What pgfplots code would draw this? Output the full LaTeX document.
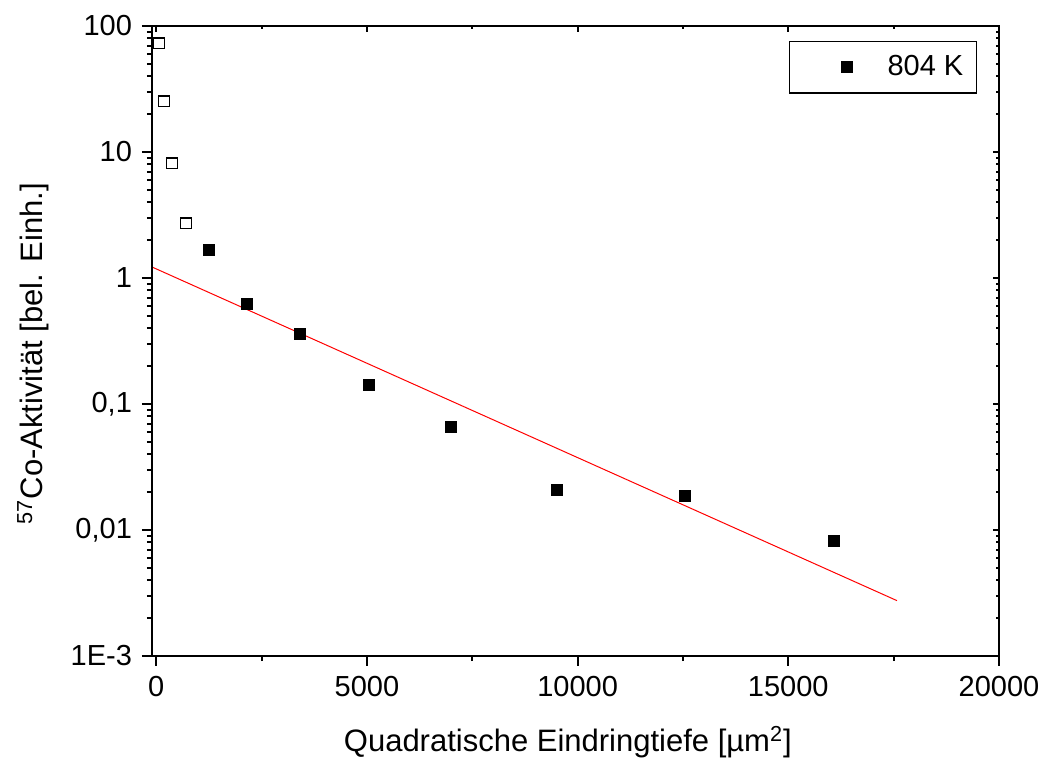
\documentclass[border=0pt]{standalone}
\usepackage{pgfplots}
\pgfplotsset{compat=1.18}
\usepackage{fontspec}
\setmainfont{Liberation Sans}
\begin{document}
\begin{tikzpicture}
\begin{semilogyaxis}[name=main,
  width=423.5pt, height=315pt, scale only axis,
  xmin=-100, xmax=20000, ymin=1e-3, ymax=100,
  scaled x ticks=false,
  axis line style={line width=1pt},
  xtick={0,5000,10000,15000,20000}, minor x tick num=1,
  ytick={1e-3,1e-2,1e-1,1,10,100},
  tick style={line width=1pt, black},
  tick align=outside, tick pos=left,
  major tick length=5pt, minor tick length=2.5pt,
  xticklabels={0,5000,10000,15000,20000},
  yticklabels={1E-3,{0,01},{0,1},1,10,100},
  tick label style={font=\fontsize{14.5}{17}\selectfont},
  xticklabel style={yshift=-1.5pt},
  yticklabel style={xshift=-1.5pt},
  xlabel={Quadratische Eindringtiefe [µm\textsuperscript{2}]},
  ylabel={\textsuperscript{57}Co-Aktivität [bel. Einh.]},
  label style={font=\fontsize{15.5}{18}\selectfont},
  xlabel style={at={(axis description cs:0.491,-0.1365)}, anchor=center},
  ylabel style={at={(axis description cs:-0.1405,0.48)}, anchor=center},
  legend style={at={(axis description cs:0.974,0.976)}, anchor=north east,
    draw=black, line width=0.6pt, font=\fontsize{14.5}{17}\selectfont,
    inner xsep=4.5pt, inner ysep=5pt},
  legend image code/.code={\path (0pt,-1pt) (42pt,1pt); \draw[black, fill=black, mark=square*, mark size=2.75pt, only marks] plot coordinates {(24pt,0pt)};},
]
\addplot[only marks, mark=square, mark size=2.6pt, mark options={line width=0.6pt, draw=black, fill=white}, forget plot] coordinates {
(66,73.1) (185,25.3) (375,8.15) (707,2.72)
};
\addplot[only marks, mark=square*, mark size=2.75pt, mark options={draw=black, fill=black}] coordinates {
(1260,1.66) (2148,0.618) (3412,0.362) (5050,0.143) (6996,0.0664)
(9511,0.0210) (12548,0.0188) (16084,0.00826)
};
\addlegendentry{804 K}
\addplot[red, line width=0.5pt, forget plot] coordinates {(-100,1.223) (17580,0.00275)};
\end{semilogyaxis}
\begin{semilogyaxis}[
  width=423.5pt, height=315pt, scale only axis,
  xmin=-100, xmax=20000, ymin=1e-3, ymax=100,
  scaled x ticks=false,
  axis line style={line width=1pt},
  xtick={0,5000,10000,15000,20000}, minor x tick num=1,
  ytick={1e-3,1e-2,1e-1,1,10,100},
  tick style={line width=1pt, black},
  tick align=inside, tick pos=right,
  major tick length=3pt, minor tick length=1.5pt,
  xticklabels={}, yticklabels={},
]
\end{semilogyaxis}
\pgfresetboundingbox
\path[use as bounding box] ([shift={(-76pt,-55.5pt)}]main.south west) rectangle ([shift={(20pt,13pt)}]main.north east);
\end{tikzpicture}
\end{document}
